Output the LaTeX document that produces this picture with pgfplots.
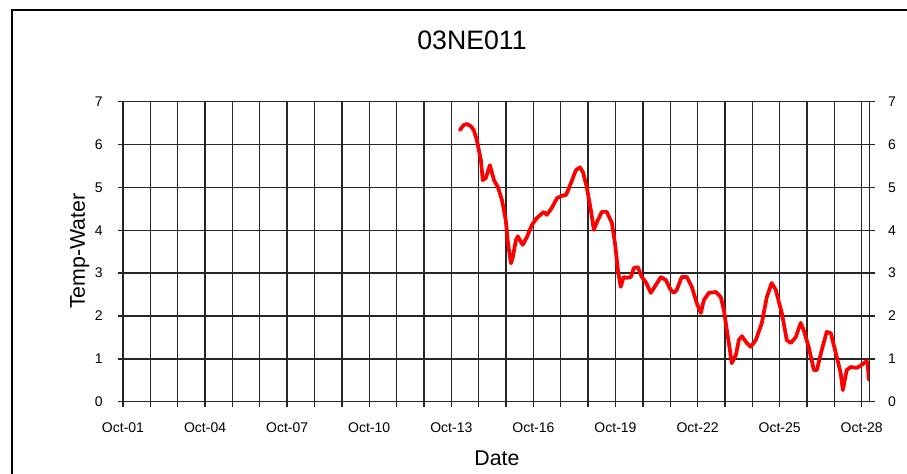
\documentclass[border=0pt]{standalone}
\usepackage{fontspec}
\setmainfont{Liberation Sans}
\usepackage{pgfplots}
\pgfplotsset{compat=1.18}

\begin{document}
\begin{tikzpicture}
\useasboundingbox (-92.25pt,-53.5pt) rectangle (588pt,301.3pt);
\draw[line width=1.5pt] (-83.25pt,-70pt) rectangle (600pt,293.8pt);
\begin{axis}[
 at={(0,0)}, anchor=south west,
 scale only axis, width=560pt, height=225pt,
 xmin=1, xmax=28.29, ymin=0, ymax=7,
 xtick={1,4,...,28},
 xticklabels={Oct-01,Oct-04,Oct-07,Oct-10,Oct-13,Oct-16,Oct-19,Oct-22,Oct-25,Oct-28},
 minor xtick={1,...,28},
 ytick={0,...,7},
 ytick pos=left, xtick pos=bottom,
 tick align=outside,
 major tick length=3.75pt, minor tick length=3.75pt,
 grid=both,
 major grid style={black!85, line width=1pt},
 minor grid style={black!85, line width=1pt},
 tick style={black!85, line width=1pt},
 axis line style={black!85, line width=1pt},
 ticklabel style={font=\fontsize{10.5}{12}\selectfont},
 yticklabel style={xshift=-8pt},
 xticklabel style={yshift=-8.5pt},
 /pgf/number format/assume math mode=true,
]
\addplot[red, line width=2.8pt, line join=round, line cap=round] coordinates {
(13.31,6.34) (13.46,6.46) (13.57,6.48) (13.71,6.43) (13.82,6.34) (13.93,6.11)
(14.08,5.64) (14.15,5.17) (14.26,5.22) (14.41,5.52) (14.48,5.35) (14.56,5.17)
(14.70,5.01) (14.85,4.71) (14.99,4.24) (15.07,3.70) (15.18,3.23) (15.25,3.38)
(15.36,3.77) (15.43,3.86) (15.54,3.73) (15.61,3.66) (15.76,3.84) (15.94,4.12)
(16.13,4.29) (16.38,4.43) (16.49,4.36) (16.67,4.52) (16.86,4.75) (17.11,4.82)
(17.19,4.82) (17.37,5.10) (17.55,5.40) (17.70,5.47) (17.81,5.36) (17.95,5.01)
(18.10,4.47) (18.21,4.01) (18.32,4.19) (18.50,4.43) (18.68,4.43) (18.87,4.17)
(18.98,3.70) (19.09,3.07) (19.19,2.68) (19.30,2.91) (19.41,2.89) (19.56,2.91)
(19.67,3.12) (19.82,3.14) (19.96,2.91) (20.11,2.79) (20.29,2.54) (20.47,2.72)
(20.66,2.91) (20.84,2.84) (21.02,2.61) (21.13,2.54) (21.24,2.61) (21.42,2.91)
(21.61,2.91) (21.79,2.68) (21.97,2.30) (22.12,2.07) (22.23,2.37) (22.41,2.54)
(22.67,2.56) (22.85,2.44) (22.96,2.14) (23.07,1.67) (23.18,1.21) (23.25,0.90)
(23.40,1.09) (23.51,1.44) (23.62,1.53) (23.80,1.37) (23.94,1.28) (24.13,1.44)
(24.35,1.84) (24.53,2.44) (24.71,2.77) (24.86,2.61) (24.97,2.33) (25.08,2.07)
(25.26,1.44) (25.41,1.37) (25.59,1.51) (25.77,1.84) (25.88,1.67) (26.06,1.28)
(26.25,0.74) (26.36,0.74) (26.54,1.21) (26.72,1.63) (26.87,1.60) (27.05,1.14)
(27.23,0.67) (27.31,0.27) (27.45,0.74) (27.60,0.81) (27.82,0.79) (28.00,0.86)
(28.18,0.95) (28.22,0.86) (28.26,0.51)
};
\end{axis}
\begin{axis}[
 at={(0,0)}, anchor=south west,
 scale only axis, width=560pt, height=225pt,
 xmin=1, xmax=28.29, ymin=0, ymax=7,
 hide x axis, axis y line*=right,
 ytick={0,...,7},
 tick align=outside,
 major tick length=3.75pt,
 tick style={black!85, line width=1pt},
 axis line style={black!85, line width=1pt},
 ticklabel style={font=\fontsize{10.5}{12}\selectfont},
 yticklabel style={xshift=6.5pt},
 /pgf/number format/assume math mode=true,
]
\end{axis}
\node[anchor=base, font=\fontsize{20}{22}\selectfont] at (261.75pt,263.8pt) {03NE011};
\node[anchor=base, font=\fontsize{16}{18}\selectfont] at (280.5pt,-47.5pt) {Date};
\node[anchor=base, rotate=90, font=\fontsize{16}{18}\selectfont] at (-28.5pt,113pt) {Temp-Water};
\end{tikzpicture}
\end{document}
